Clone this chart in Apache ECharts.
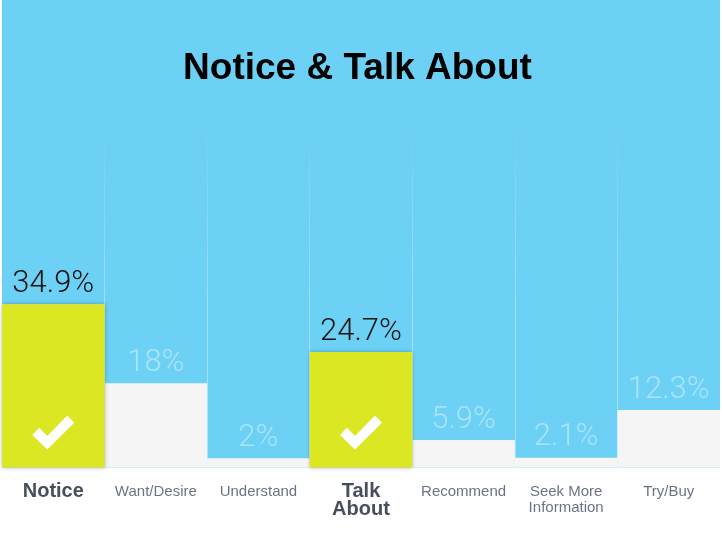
<!DOCTYPE html>
<html>
<head>
<meta charset="utf-8">
<script src="https://cdn.jsdelivr.net/npm/echarts@6/dist/echarts.min.js"></script>
<style>html,body{margin:0;padding:0;background:#fff}#c{width:723px;height:535px}</style>
</head>
<body>
<div id="c"></div>
<script>
const titleText = 'Notice & Talk About';
const categories = ['Notice', 'Want/Desire', 'Understand', 'Talk\nAbout', 'Recommend', 'Seek More\nInformation', 'Try/Buy'];
const values = [34.9, 18, 2, 24.7, 5.9, 2.1, 12.3];
const highlighted = [true, false, false, true, false, false, false];
const axisMax = 100;

const BLUE = '#6cd1f5', YELLOW = '#dce724', GRAY = '#f5f5f5';
const LABEL_FONT = '"Roboto Light", Roboto, "Liberation Sans", sans-serif';
const AXIS_FONT = '"Liberation Sans", Arial, sans-serif';
const chart = echarts.init(document.getElementById('c'));

const sepGradient = new echarts.graphic.LinearGradient(0, 120, 0, 320, [
  { offset: 0, color: 'rgba(255,255,255,0)' },
  { offset: 1, color: 'rgba(255,255,255,0.38)' }
], true);

const valueLabel = {
  show: true, position: 'top', distance: 6,
  formatter: '{c}%', fontSize: 31, fontWeight: 300, lineHeight: 31,
  fontFamily: LABEL_FONT
};

chart.setOption({
  animation: false,
  backgroundColor: '#ffffff',
  grid: { left: 2, right: 3, top: 0, bottom: 67.5 },
  graphic: [{
    type: 'rect', z: -10, silent: true,
    shape: { x: 2, y: 0, width: 718, height: 467 },
    style: { fill: BLUE }
  }, {
    type: 'text', x: 357.5, y: 69, z: 100,
    style: {
      text: titleText, fill: '#000', textAlign: 'center', textVerticalAlign: 'middle',
      font: 'bold 37px "Liberation Sans", Arial, sans-serif'
    }
  }],
  xAxis: {
    type: 'category', data: categories, z: 3,
    axisLine: { show: false }, axisTick: { show: false },
    splitLine: { show: true, showMinLine: false, showMaxLine: false, lineStyle: { color: sepGradient, width: 1 } },
    axisLabel: {
      margin: 15, interval: 0,
      formatter: (v, i) => v.split('\n').map((s, k) =>
        (highlighted[i] ? '{b|' : (k === 0 ? '{n1|' : '{n2|')) + s + '}').join('\n'),
      rich: {
        b: { fontSize: 20, fontWeight: 'bold', color: '#474f5c', lineHeight: 18, fontFamily: AXIS_FONT },
        n1: { fontSize: 15, color: '#6b7484', lineHeight: 18, fontFamily: AXIS_FONT },
        n2: { fontSize: 15, color: '#6b7484', lineHeight: 14, fontFamily: AXIS_FONT }
      }
    }
  },
  yAxis: { type: 'value', min: 0, max: axisMax, show: false, splitLine: { show: false } },
  series: [{
    type: 'bar',
    z: 2,
    barCategoryGap: '0%',
    barGap: '-100%',
    showBackground: true,
    backgroundStyle: { color: BLUE },
    itemStyle: { color: GRAY },
    label: valueLabel,
    data: values.map((v, i) => ({
      value: v,
      label: { show: !highlighted[i], color: 'rgba(255,255,255,0.42)' }
    }))
  }, {
    type: 'bar',
    z: 4,
    barCategoryGap: '0%',
    barGap: '-100%',
    itemStyle: { color: YELLOW, shadowBlur: 4, shadowColor: 'rgba(0,0,0,0.25)' },
    label: Object.assign({}, valueLabel, { color: '#111111' }),
    data: values.map((v, i) => highlighted[i] ? v : '-')
  }, {
    type: 'pictorialBar',
    symbol: 'path://M0,20 L7,13 L15,21 L35,1 L42,8 L15,34 Z',
    symbolSize: [42, 34],
    symbolPosition: 'start',
    symbolOffset: [0, -18],
    itemStyle: { color: '#ffffff' },
    z: 10,
    data: values.map((v, i) => highlighted[i] ? v : '-')
  }]
});
</script>
</body>
</html>
